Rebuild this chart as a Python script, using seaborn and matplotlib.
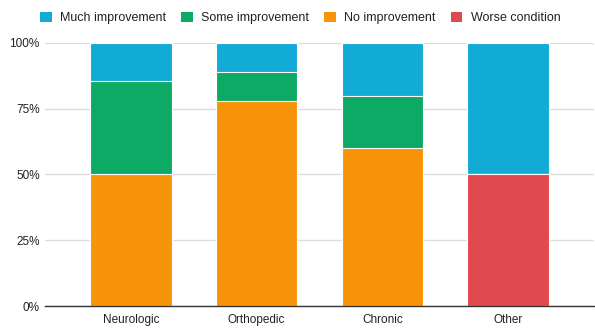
import matplotlib
matplotlib.use("Agg")
import matplotlib.pyplot as plt
from matplotlib.patches import Patch
from matplotlib.ticker import PercentFormatter
import numpy as np
import pandas as pd
import seaborn as sns

categories = ["Neurologic", "Orthopedic", "Chronic", "Other"]
worse_condition = [0.0, 0.0, 0.0, 50.0]
no_improvement = [50.0, 77.8, 60.0, 0.0]
some_improvement = [35.7, 11.1, 20.0, 0.0]
much_improvement = [14.3, 11.1, 20.0, 50.0]

series_names = ["Much improvement", "Some improvement", "No improvement", "Worse condition"]
colors = {"Much improvement": "#12ABD6",
          "Some improvement": "#0DAA66",
          "No improvement": "#F7940A",
          "Worse condition": "#E04A4E"}

# stacking order from the bottom up
stack = [("Worse condition", worse_condition),
         ("No improvement", no_improvement),
         ("Some improvement", some_improvement),
         ("Much improvement", much_improvement)]

sns.set_style("white")
plt.rcParams["font.family"] = ["Liberation Sans", "DejaVu Sans"]

fig = plt.figure(figsize=(5.95, 3.28), dpi=100)
ax = fig.add_axes([0.076, 0.067, 0.922, 0.802])

cum = np.zeros(len(categories))
layers = []
for name, vals in stack:
    cum = cum + np.array(vals)
    layers.append((name, cum.copy()))

# draw cumulative totals tallest-first so each layer shows its own segment
for name, tops in reversed(layers):
    df = pd.DataFrame({"category": categories, "value": tops})
    sns.barplot(data=df, x="category", y="value", order=categories,
                color=colors[name], width=0.65, edgecolor="white",
                linewidth=0.8, saturation=1, ax=ax, zorder=3)

ax.set_xlim(-0.68, 3.68)
ax.set_ylim(0, 100)
ax.set_yticks([0, 25, 50, 75, 100])
ax.yaxis.set_major_formatter(PercentFormatter(decimals=0))
ax.grid(axis="y", color="#dddddd", linewidth=1.0, zorder=0)
ax.set_axisbelow(True)
for side in ["top", "right", "left"]:
    ax.spines[side].set_visible(False)
ax.spines["bottom"].set_color("#333333")
ax.spines["bottom"].set_linewidth(1.0)
ax.spines["bottom"].set_zorder(4)
ax.set_xlabel("")
ax.set_ylabel("")
ax.tick_params(axis="both", length=0, labelsize=8.5, colors="#222222")
ax.tick_params(axis="y", pad=4)
ax.tick_params(axis="x", pad=6)

handles = [Patch(facecolor=colors[n], edgecolor="none") for n in series_names]
fig.legend(handles, series_names, loc="center", bbox_to_anchor=(0.505, 0.945),
           ncol=4, frameon=False, fontsize=9, handlelength=0.9,
           handleheight=0.9, handletextpad=0.7, columnspacing=1.2,
           labelcolor="#222222")

fig.savefig("out.png", dpi=100)
